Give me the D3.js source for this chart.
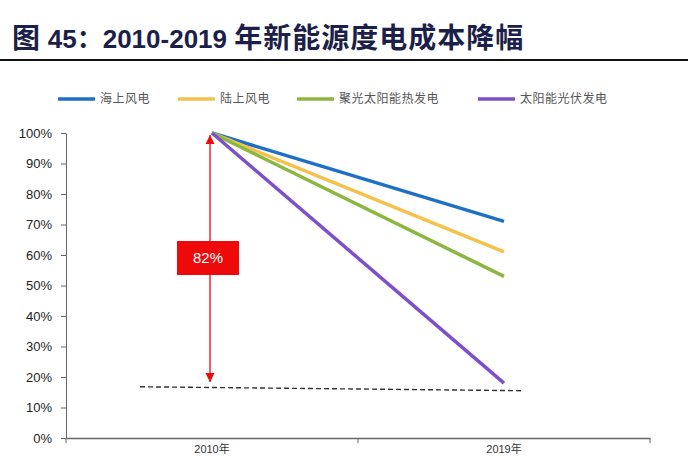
<!DOCTYPE html>
<html>
<head>
<meta charset="utf-8">
<script src="https://cdn.jsdelivr.net/npm/d3@7"></script>
<style>
  body { margin: 0; background: #fff; }
  svg { display: block; }
</style>
</head>
<body>
<div id="chart"></div>
<script>
// chart values
const years = ["2010年", "2019年"];
const seriesNames = ["海上风电", "陆上风电", "聚光太阳能热发电", "太阳能光伏发电"];
const offshoreWind = [1.00, 0.71];
const onshoreWind = [1.00, 0.61];
const cspPower = [1.00, 0.53];
const pvPower = [1.00, 0.18];
const floorLine = [0.168, 0.155];
const yTicks = [0, 0.1, 0.2, 0.3, 0.4, 0.5, 0.6, 0.7, 0.8, 0.9, 1.0];
const declineLabel = "82%";

const colors = ["#1f6fc5", "#f4c24c", "#8cb640", "#7d4fc9"];
const seriesValues = [offshoreWind, onshoreWind, cspPower, pvPower];

const width = 688, height = 456;
const svg = d3.select("#chart").append("svg")
  .attr("width", width)
  .attr("height", height)
  .style("font-family", "Arial, 'Liberation Sans', 'Noto Sans CJK SC', sans-serif");

// title (Chinese glyphs a bit larger than the digits, as in the source)
const title = svg.append("text")
  .attr("x", 12)
  .attr("y", 48)
  .attr("fill", "#1c1f4a")
  .attr("font-weight", "bold")
  .style("font-family", "'Liberation Sans', 'Noto Sans CJK SC', sans-serif");
title.append("tspan").attr("font-size", 28).text("图 ");
title.append("tspan").attr("font-size", 26).text("45：2010-2019 ");
title.append("tspan").attr("font-size", 28).attr("letter-spacing", 1).text("年新能源度电成本降幅");

svg.append("line")
  .attr("x1", 0).attr("x2", width)
  .attr("y1", 60).attr("y2", 60)
  .attr("stroke", "#111")
  .attr("stroke-width", 2);

// legend
const legendX = [58, 178, 297, 478];
const legend = svg.append("g").selectAll("g")
  .data(seriesNames)
  .join("g")
  .attr("transform", (d, i) => `translate(${legendX[i]},99)`);

legend.append("line")
  .attr("x1", 0).attr("x2", 37)
  .attr("stroke", (d, i) => colors[i])
  .attr("stroke-width", 3.5);

legend.append("text")
  .attr("x", 42)
  .attr("dy", "0.35em")
  .attr("font-size", 12)
  .attr("fill", "#555")
  .attr("letter-spacing", 0.5)
  .style("font-family", "'Noto Sans CJK SC', sans-serif")
  .text(d => d);

// scales
const x = d3.scaleBand().domain(years).range([66, 650]);
const y = d3.scaleLinear().domain([0, 1]).range([438, 133]);
const cx = d => x(d) + x.bandwidth() / 2;

// y axis
const yAxis = svg.append("g")
  .attr("transform", "translate(66,0)")
  .call(d3.axisLeft(y).tickValues(yTicks).tickFormat(d3.format(".0%")).tickSize(5).tickSizeOuter(0));
yAxis.select(".domain").attr("stroke", "#666");
yAxis.selectAll(".tick line").attr("stroke", "#666");
yAxis.selectAll(".tick text")
  .attr("x", -14)
  .attr("font-size", 13)
  .attr("fill", "#222")
  .style("font-family", "Arial, 'Liberation Sans', sans-serif");

// x axis
const xAxis = svg.append("g")
  .attr("transform", "translate(0,438)")
  .call(d3.axisBottom(x).tickSize(0).tickSizeOuter(0));
xAxis.select(".domain").attr("stroke", "#666").attr("stroke-width", 1.5);
xAxis.selectAll(".tick text")
  .attr("y", 15)
  .attr("dy", 0)
  .attr("font-size", 11)
  .attr("fill", "#333")
  .style("font-family", "Arial, 'Noto Sans CJK SC', sans-serif");
// band boundary ticks
svg.append("g").selectAll("line")
  .data([x.range()[0], x(years[1]), x.range()[1]])
  .join("line")
  .attr("x1", d => d).attr("x2", d => d)
  .attr("y1", 438).attr("y2", 443)
  .attr("stroke", "#666");

// dashed floor line
svg.append("line")
  .attr("x1", x.range()[0] + 74)
  .attr("x2", cx(years[1]) + 20)
  .attr("y1", y(floorLine[0]))
  .attr("y2", y(floorLine[1]))
  .attr("stroke", "#333")
  .attr("stroke-width", 1.4)
  .attr("stroke-dasharray", "5,3");

// red arrow showing the decline
const ax = cx(years[0]) - 2;
svg.append("defs").append("marker")
  .attr("id", "arrow")
  .attr("viewBox", "0 0 10 10")
  .attr("refX", 10).attr("refY", 5)
  .attr("markerWidth", 7).attr("markerHeight", 7)
  .attr("orient", "auto-start-reverse")
  .append("path")
  .attr("d", "M0,0L10,5L0,10z")
  .attr("fill", "#ee0a0a");

svg.append("line")
  .attr("x1", ax).attr("x2", ax)
  .attr("y1", y(pvPower[0]) + 2)
  .attr("y2", y(pvPower[1]) - 1)
  .attr("stroke", "#ee0a0a")
  .attr("stroke-width", 1.3)
  .attr("marker-start", "url(#arrow)")
  .attr("marker-end", "url(#arrow)");

// series lines
const line = d3.line()
  .x((d, i) => cx(years[i]))
  .y(d => y(d));

svg.append("g").selectAll("path")
  .data(seriesValues)
  .join("path")
  .attr("fill", "none")
  .attr("stroke", (d, i) => colors[i])
  .attr("stroke-width", 3.5)
  .attr("d", line);

// 82% label box
svg.append("rect")
  .attr("x", ax - 33).attr("y", 241)
  .attr("width", 62).attr("height", 34)
  .attr("fill", "#ee0a0a");
svg.append("text")
  .attr("x", ax - 2).attr("y", 258)
  .attr("dy", "0.35em")
  .attr("text-anchor", "middle")
  .attr("fill", "#fff")
  .attr("font-size", 15)
  .text(declineLabel);
</script>
</body>
</html>
